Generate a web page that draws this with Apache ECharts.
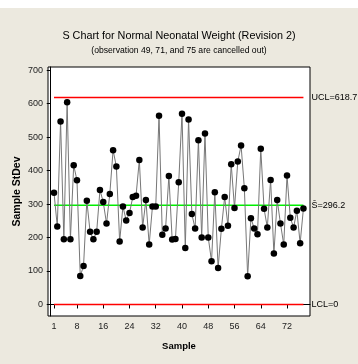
<!DOCTYPE html>
<html>
<head>
<meta charset="utf-8">
<script src="https://cdn.jsdelivr.net/npm/echarts@6/dist/echarts.min.js"></script>
<style>
  html, body { margin: 0; padding: 0; background: #ECE9DF; }
  #chart { width: 358px; height: 364px; }
</style>
</head>
<body>
<div id="chart"></div>
<script>
// Sample standard deviation per subgroup (samples 1..77)
const sampleStdDev = [
  334, 233, 547, 195, 604, 195, 416, 371, 85, 115,
  310, 217, 195, 217, 342, 306, 242, 330, 461, 412,
  188, 293, 251, 273, 321, 325, 432, 230, 312, 179,
  293, 293, 564, 208, 227, 384, 194, 196, 365, 570,
  169, 553, 270, 227, 491, 200, 511, 200, 129, 335,
  109, 226, 321, 235, 419, 288, 427, 475, 347, 84,
  258, 227, 210, 465, 286, 230, 372, 152, 312, 242,
  179, 385, 259, 230, 280, 183, 287
];
const sampleNumbers = sampleStdDev.map((_, i) => i + 1);

// Control limits
const ucl = 618.7;
const centerLine = 296.2;
const lcl = 0;

// Axis tick labels
const xTicks = [1, 8, 16, 24, 32, 40, 48, 56, 64, 72];
const yTicks = [0, 100, 200, 300, 400, 500, 600, 700];

const font = "'Liberation Sans', Arial, sans-serif";
const firstSample = sampleNumbers[0];
const lastSample = sampleNumbers[sampleNumbers.length - 1];

// A horizontal limit line from the first to the last sample, labelled at its right end
function limitSeries(value, color, text) {
  return {
    type: 'line',
    data: [[firstSample, value], [lastSample, value]],
    symbol: 'none',
    silent: true,
    z: 3,
    lineStyle: { color: color, width: 1.5 },
    emphasis: { disabled: true },
    endLabel: {
      show: true,
      formatter: text,
      distance: 8,
      fontFamily: font,
      fontSize: 9,
      color: '#000'
    }
  };
}

const chart = echarts.init(document.getElementById('chart'));
chart.setOption({
  animation: false,
  backgroundColor: '#ECE9DF',
  graphic: [{
    type: 'rect',
    shape: { x: 0, y: 0, width: 358, height: 8 },
    style: { fill: '#fff' },
    silent: true
  }],
  title: {
    text: 'S Chart for Normal Neonatal Weight (Revision 2)',
    subtext: '(observation 49, 71, and 75 are cancelled out)',
    left: 'center',
    top: 26,
    itemGap: 4,
    textStyle: { fontFamily: font, fontSize: 10.8, fontWeight: 'normal', color: '#000' },
    subtextStyle: { fontFamily: font, fontSize: 8.6, color: '#000' }
  },
  grid: {
    left: 48, right: 48, top: 67, bottom: 48,
    show: true, backgroundColor: '#fff', borderColor: '#000', borderWidth: 1
  },
  xAxis: {
    type: 'value',
    min: -0.83, max: 79,
    name: 'Sample',
    nameLocation: 'middle',
    nameGap: 25,
    nameMoveOverlap: false,
    nameTextStyle: { fontFamily: font, fontSize: 9.5, fontWeight: 'bold', color: '#000' },
    axisLine: { show: true, lineStyle: { color: '#000' } },
    axisTick: { show: true, customValues: xTicks, length: 4, lineStyle: { color: '#000' } },
    axisLabel: { customValues: xTicks, fontFamily: font, fontSize: 9, color: '#222', margin: 6 },
    splitLine: { show: false }
  },
  yAxis: {
    type: 'value',
    min: -34.4, max: 709.5,
    name: 'Sample StDev',
    nameLocation: 'middle',
    nameGap: 25,
    nameMoveOverlap: false,
    nameTextStyle: { fontFamily: font, fontSize: 10.5, fontWeight: 'bold', color: '#000' },
    axisLine: { show: true, lineStyle: { color: '#000' } },
    axisTick: { show: true, customValues: yTicks, length: 4, lineStyle: { color: '#000' } },
    axisLabel: { customValues: yTicks, fontFamily: font, fontSize: 9, color: '#222', margin: 5 },
    splitLine: { show: false }
  },
  series: [
    limitSeries(ucl, '#FF0000', 'UCL=' + ucl),
    limitSeries(centerLine, '#00F000', 'S\u0304=' + centerLine),
    limitSeries(lcl, '#FF0000', 'LCL=' + lcl),
    {
      type: 'line',
      data: sampleNumbers.map((n, i) => [n, sampleStdDev[i]]),
      symbol: 'circle',
      symbolSize: 6.5,
      itemStyle: { color: '#000' },
      lineStyle: { color: '#777', width: 1 },
      z: 5
    }
  ]
});
</script>
</body>
</html>
